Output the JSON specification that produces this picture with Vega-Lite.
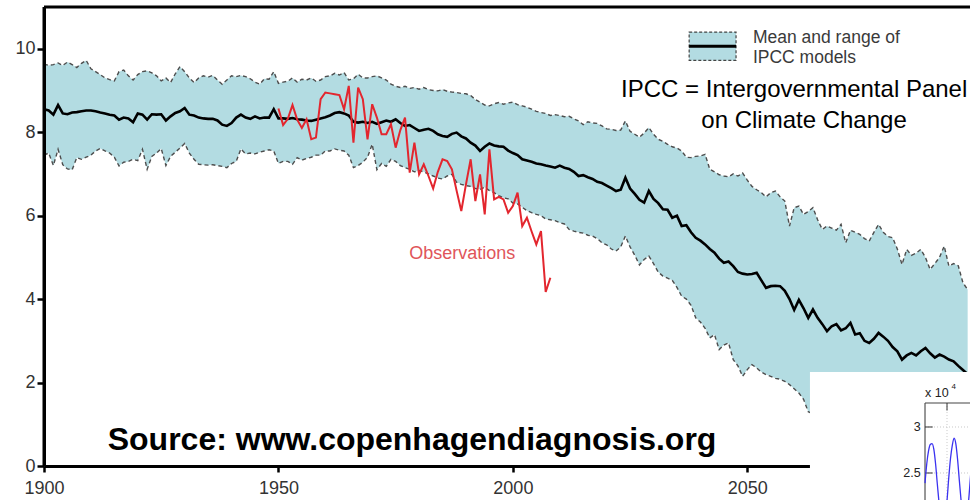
{
  "$schema": "https://vega.github.io/schema/vega-lite/v6.json",
  "width": 926,
  "height": 459,
  "autosize": {"type": "none"},
  "padding": {"left": 44, "top": 7, "right": 0, "bottom": 34},
  "background": "white",
  "config": {
    "view": {"stroke": null},
    "font": "Liberation Sans",
    "axis": {
      "title": null, "grid": false, "labelFlush": false, "labelOverlap": false,
      "domainColor": "black", "domainWidth": 3, "tickColor": "black", "tickWidth": 2.5,
      "labelFontSize": 18, "labelColor": "#333", "labelFont": "Liberation Sans"
    },
    "axisX": {"tickSize": 6, "labelPadding": 7, "zindex": 0},
    "axisY": {"tickSize": 7, "labelPadding": 2, "zindex": 1}
  },
  "datasets": {
    "model": [
      {"year":1900,"hi":9.63,"mean":8.55,"lo":7.45},{"year":1901,"hi":9.60,"mean":8.52,"lo":7.50},{"year":1902,"hi":9.62,"mean":8.42,"lo":7.20},{"year":1903,"hi":9.66,"mean":8.65,"lo":7.59},{"year":1904,"hi":9.60,"mean":8.45,"lo":7.22},{"year":1905,"hi":9.68,"mean":8.43,"lo":7.12},{"year":1906,"hi":9.62,"mean":8.47,"lo":7.10},{"year":1907,"hi":9.55,"mean":8.48,"lo":7.39},{"year":1908,"hi":9.65,"mean":8.50,"lo":7.35},{"year":1909,"hi":9.72,"mean":8.52,"lo":7.40},
      {"year":1910,"hi":9.52,"mean":8.52,"lo":7.45},{"year":1911,"hi":9.45,"mean":8.50,"lo":7.55},{"year":1912,"hi":9.38,"mean":8.47,"lo":7.61},{"year":1913,"hi":9.30,"mean":8.45,"lo":7.55},{"year":1914,"hi":9.26,"mean":8.42,"lo":7.50},{"year":1915,"hi":9.23,"mean":8.40,"lo":7.40},{"year":1916,"hi":9.45,"mean":8.30,"lo":7.19},{"year":1917,"hi":9.49,"mean":8.35,"lo":7.28},{"year":1918,"hi":9.35,"mean":8.33,"lo":7.30},{"year":1919,"hi":9.25,"mean":8.24,"lo":7.35},
      {"year":1920,"hi":9.38,"mean":8.45,"lo":7.32},{"year":1921,"hi":9.45,"mean":8.42,"lo":7.59},{"year":1922,"hi":9.47,"mean":8.30,"lo":7.11},{"year":1923,"hi":9.42,"mean":8.43,"lo":7.42},{"year":1924,"hi":9.35,"mean":8.42,"lo":7.50},{"year":1925,"hi":9.23,"mean":8.43,"lo":7.61},{"year":1926,"hi":9.30,"mean":8.28,"lo":7.20},{"year":1927,"hi":9.19,"mean":8.38,"lo":7.42},{"year":1928,"hi":9.40,"mean":8.46,"lo":7.52},{"year":1929,"hi":9.57,"mean":8.50,"lo":7.62},
      {"year":1930,"hi":9.45,"mean":8.58,"lo":7.73},{"year":1931,"hi":9.30,"mean":8.42,"lo":7.50},{"year":1932,"hi":9.19,"mean":8.40,"lo":7.35},{"year":1933,"hi":9.30,"mean":8.35,"lo":7.23},{"year":1934,"hi":9.35,"mean":8.33,"lo":7.22},{"year":1935,"hi":9.32,"mean":8.32,"lo":7.21},{"year":1936,"hi":9.36,"mean":8.32,"lo":7.22},{"year":1937,"hi":9.25,"mean":8.28,"lo":7.20},{"year":1938,"hi":9.15,"mean":8.18,"lo":7.18},{"year":1939,"hi":9.25,"mean":8.15,"lo":7.15},
      {"year":1940,"hi":9.35,"mean":8.22,"lo":7.25},{"year":1941,"hi":9.33,"mean":8.35,"lo":7.30},{"year":1942,"hi":9.36,"mean":8.42,"lo":7.60},{"year":1943,"hi":9.33,"mean":8.35,"lo":7.48},{"year":1944,"hi":9.28,"mean":8.32,"lo":7.50},{"year":1945,"hi":9.20,"mean":8.38,"lo":7.48},{"year":1946,"hi":9.15,"mean":8.33,"lo":7.52},{"year":1947,"hi":9.28,"mean":8.35,"lo":7.55},{"year":1948,"hi":9.27,"mean":8.35,"lo":7.58},{"year":1949,"hi":9.45,"mean":8.55,"lo":7.55},
      {"year":1950,"hi":9.17,"mean":8.33,"lo":7.25},{"year":1951,"hi":9.20,"mean":8.33,"lo":7.30},{"year":1952,"hi":9.22,"mean":8.32,"lo":7.30},{"year":1953,"hi":9.30,"mean":8.34,"lo":7.23},{"year":1954,"hi":9.20,"mean":8.31,"lo":7.39},{"year":1955,"hi":9.27,"mean":8.30,"lo":7.33},{"year":1956,"hi":9.25,"mean":8.28,"lo":7.37},{"year":1957,"hi":9.30,"mean":8.27,"lo":7.40},{"year":1958,"hi":9.22,"mean":8.30,"lo":7.45},{"year":1959,"hi":9.25,"mean":8.33,"lo":7.45},
      {"year":1960,"hi":9.33,"mean":8.36,"lo":7.55},{"year":1961,"hi":9.35,"mean":8.40,"lo":7.55},{"year":1962,"hi":9.41,"mean":8.46,"lo":7.60},{"year":1963,"hi":9.37,"mean":8.48,"lo":7.57},{"year":1964,"hi":9.43,"mean":8.45,"lo":7.55},{"year":1965,"hi":9.25,"mean":8.40,"lo":7.45},{"year":1966,"hi":9.28,"mean":8.25,"lo":7.15},{"year":1967,"hi":9.39,"mean":8.23,"lo":7.20},{"year":1968,"hi":9.30,"mean":8.25,"lo":7.28},{"year":1969,"hi":9.30,"mean":8.22,"lo":7.40},
      {"year":1970,"hi":9.33,"mean":8.25,"lo":7.71},{"year":1971,"hi":9.35,"mean":8.20,"lo":7.10},{"year":1972,"hi":9.30,"mean":8.24,"lo":7.25},{"year":1973,"hi":9.25,"mean":8.28,"lo":7.18},{"year":1974,"hi":9.15,"mean":8.25,"lo":7.35},{"year":1975,"hi":9.10,"mean":8.31,"lo":7.30},{"year":1976,"hi":9.07,"mean":8.22,"lo":7.20},{"year":1977,"hi":9.10,"mean":8.15,"lo":7.15},{"year":1978,"hi":9.05,"mean":8.17,"lo":7.11},{"year":1979,"hi":9.07,"mean":8.10,"lo":7.05},
      {"year":1980,"hi":9.03,"mean":8.03,"lo":7.08},{"year":1981,"hi":9.07,"mean":8.06,"lo":7.05},{"year":1982,"hi":9.02,"mean":8.08,"lo":7.00},{"year":1983,"hi":9.00,"mean":8.03,"lo":6.95},{"year":1984,"hi":8.99,"mean":7.95,"lo":6.90},{"year":1985,"hi":9.02,"mean":7.91,"lo":6.88},{"year":1986,"hi":8.98,"mean":7.89,"lo":6.95},{"year":1987,"hi":8.96,"mean":7.96,"lo":6.99},{"year":1988,"hi":8.95,"mean":7.99,"lo":6.80},{"year":1989,"hi":8.93,"mean":7.90,"lo":6.75},
      {"year":1990,"hi":8.92,"mean":7.85,"lo":6.72},{"year":1991,"hi":8.88,"mean":7.75,"lo":6.70},{"year":1992,"hi":8.78,"mean":7.68,"lo":6.65},{"year":1993,"hi":8.72,"mean":7.55,"lo":6.63},{"year":1994,"hi":8.65,"mean":7.65,"lo":6.68},{"year":1995,"hi":8.63,"mean":7.73,"lo":6.60},{"year":1996,"hi":8.68,"mean":7.68,"lo":6.55},{"year":1997,"hi":8.71,"mean":7.66,"lo":6.48},{"year":1998,"hi":8.67,"mean":7.65,"lo":6.43},{"year":1999,"hi":8.70,"mean":7.56,"lo":6.40},
      {"year":2000,"hi":8.72,"mean":7.50,"lo":6.30},{"year":2001,"hi":8.66,"mean":7.45,"lo":6.28},{"year":2002,"hi":8.63,"mean":7.35,"lo":6.20},{"year":2003,"hi":8.60,"mean":7.32,"lo":6.12},{"year":2004,"hi":8.55,"mean":7.29,"lo":6.07},{"year":2005,"hi":8.50,"mean":7.25,"lo":6.03},{"year":2006,"hi":8.47,"mean":7.23,"lo":6.00},{"year":2007,"hi":8.45,"mean":7.20,"lo":5.92},{"year":2008,"hi":8.40,"mean":7.18,"lo":5.90},{"year":2009,"hi":8.42,"mean":7.15,"lo":5.88},
      {"year":2010,"hi":8.40,"mean":7.20,"lo":5.83},{"year":2011,"hi":8.37,"mean":7.15,"lo":5.80},{"year":2012,"hi":8.38,"mean":7.12,"lo":5.67},{"year":2013,"hi":8.32,"mean":7.05,"lo":5.63},{"year":2014,"hi":8.27,"mean":6.95,"lo":5.60},{"year":2015,"hi":8.18,"mean":6.97,"lo":5.58},{"year":2016,"hi":8.25,"mean":6.92,"lo":5.53},{"year":2017,"hi":8.22,"mean":6.88,"lo":5.51},{"year":2018,"hi":8.21,"mean":6.81,"lo":5.45},{"year":2019,"hi":8.15,"mean":6.78,"lo":5.35},
      {"year":2020,"hi":8.08,"mean":6.72,"lo":5.30},{"year":2021,"hi":8.07,"mean":6.66,"lo":5.20},{"year":2022,"hi":8.04,"mean":6.59,"lo":5.15},{"year":2023,"hi":8.05,"mean":6.62,"lo":5.25},{"year":2024,"hi":8.27,"mean":6.91,"lo":5.51},{"year":2025,"hi":8.02,"mean":6.65,"lo":5.25},{"year":2026,"hi":7.95,"mean":6.52,"lo":5.05},{"year":2027,"hi":7.88,"mean":6.38,"lo":4.82},{"year":2028,"hi":7.98,"mean":6.31,"lo":4.95},{"year":2029,"hi":8.11,"mean":6.59,"lo":5.03},
      {"year":2030,"hi":7.95,"mean":6.40,"lo":4.85},{"year":2031,"hi":7.83,"mean":6.30,"lo":4.65},{"year":2032,"hi":7.78,"mean":6.15,"lo":4.55},{"year":2033,"hi":7.71,"mean":6.14,"lo":4.50},{"year":2034,"hi":7.65,"mean":5.95,"lo":4.45},{"year":2035,"hi":7.62,"mean":6.00,"lo":4.28},{"year":2036,"hi":7.55,"mean":5.75,"lo":4.07},{"year":2037,"hi":7.40,"mean":5.77,"lo":4.00},{"year":2038,"hi":7.39,"mean":5.60,"lo":3.85},{"year":2039,"hi":7.42,"mean":5.47,"lo":3.55},
      {"year":2040,"hi":7.43,"mean":5.40,"lo":3.45},{"year":2041,"hi":7.47,"mean":5.31,"lo":3.30},{"year":2042,"hi":7.11,"mean":5.20,"lo":3.07},{"year":2043,"hi":7.05,"mean":5.11,"lo":3.15},{"year":2044,"hi":6.98,"mean":4.97,"lo":2.79},{"year":2045,"hi":6.95,"mean":4.87,"lo":2.90},{"year":2046,"hi":6.93,"mean":4.90,"lo":2.95},{"year":2047,"hi":7.00,"mean":4.79,"lo":2.55},{"year":2048,"hi":6.95,"mean":4.65,"lo":2.40},{"year":2049,"hi":7.02,"mean":4.61,"lo":2.15},
      {"year":2050,"hi":6.85,"mean":4.59,"lo":2.31},{"year":2051,"hi":6.70,"mean":4.60,"lo":2.43},{"year":2052,"hi":6.62,"mean":4.63,"lo":2.35},{"year":2053,"hi":6.55,"mean":4.45,"lo":2.25},{"year":2054,"hi":6.45,"mean":4.27,"lo":2.19},{"year":2055,"hi":6.55,"mean":4.31,"lo":2.15},{"year":2056,"hi":6.59,"mean":4.32,"lo":2.10},{"year":2057,"hi":6.45,"mean":4.31,"lo":2.08},{"year":2058,"hi":6.35,"mean":4.20,"lo":2.03},{"year":2059,"hi":5.75,"mean":4.00,"lo":1.95},
      {"year":2060,"hi":6.19,"mean":3.74,"lo":1.85},{"year":2061,"hi":6.23,"mean":3.98,"lo":1.75},{"year":2062,"hi":6.03,"mean":3.78,"lo":1.60},{"year":2063,"hi":6.10,"mean":3.55,"lo":1.30},{"year":2064,"hi":6.19,"mean":3.75,"lo":1.25},{"year":2065,"hi":5.90,"mean":3.55,"lo":1.20},{"year":2066,"hi":5.67,"mean":3.40,"lo":1.15},{"year":2067,"hi":5.75,"mean":3.23,"lo":1.05},{"year":2068,"hi":5.70,"mean":3.35,"lo":1.00},{"year":2069,"hi":5.65,"mean":3.40,"lo":0.95},
      {"year":2070,"hi":5.79,"mean":3.25,"lo":0.90},{"year":2071,"hi":5.35,"mean":3.30,"lo":0.85},{"year":2072,"hi":5.65,"mean":3.43,"lo":0.85},{"year":2073,"hi":5.60,"mean":3.15,"lo":0.80},{"year":2074,"hi":5.55,"mean":3.18,"lo":0.75},{"year":2075,"hi":5.45,"mean":3.00,"lo":0.70},{"year":2076,"hi":5.39,"mean":2.95,"lo":0.65},{"year":2077,"hi":5.60,"mean":3.05,"lo":0.70},{"year":2078,"hi":5.79,"mean":3.19,"lo":0.65},{"year":2079,"hi":5.60,"mean":3.10,"lo":0.60},
      {"year":2080,"hi":5.50,"mean":3.00,"lo":0.55},{"year":2081,"hi":5.47,"mean":2.85,"lo":0.50},{"year":2082,"hi":5.20,"mean":2.75,"lo":0.50},{"year":2083,"hi":4.83,"mean":2.55,"lo":0.45},{"year":2084,"hi":5.19,"mean":2.65,"lo":0.45},{"year":2085,"hi":5.05,"mean":2.71,"lo":0.40},{"year":2086,"hi":5.10,"mean":2.65,"lo":0.40},{"year":2087,"hi":5.19,"mean":2.75,"lo":0.40},{"year":2088,"hi":5.00,"mean":2.83,"lo":0.35},{"year":2089,"hi":4.71,"mean":2.70,"lo":0.35},
      {"year":2090,"hi":4.85,"mean":2.60,"lo":0.30},{"year":2091,"hi":5.00,"mean":2.67,"lo":0.30},{"year":2092,"hi":5.27,"mean":2.62,"lo":0.30},{"year":2093,"hi":4.79,"mean":2.55,"lo":0.25},{"year":2094,"hi":4.85,"mean":2.51,"lo":0.25},{"year":2095,"hi":4.80,"mean":2.40,"lo":0.25},{"year":2096,"hi":4.39,"mean":2.30,"lo":0.20},{"year":2097,"hi":4.23,"mean":2.20,"lo":0.20}
    ],
    "obs": [
      {"year":1950,"extent":8.57},{"year":1951,"extent":8.17},{"year":1952,"extent":8.32},{"year":1953,"extent":8.65},{"year":1954,"extent":8.30},{"year":1955,"extent":8.10},{"year":1956,"extent":8.31},{"year":1957,"extent":7.83},{"year":1958,"extent":7.87},{"year":1959,"extent":8.79},
      {"year":1960,"extent":8.95},{"year":1961,"extent":8.93},{"year":1962,"extent":8.91},{"year":1963,"extent":8.89},{"year":1964,"extent":8.55},{"year":1965,"extent":9.11},{"year":1966,"extent":7.75},{"year":1967,"extent":9.07},{"year":1968,"extent":8.79},{"year":1969,"extent":7.83},
      {"year":1970,"extent":8.67},{"year":1971,"extent":8.35},{"year":1972,"extent":7.95},{"year":1973,"extent":7.95},{"year":1974,"extent":8.19},{"year":1975,"extent":7.63},{"year":1976,"extent":8.05},{"year":1977,"extent":8.35},{"year":1978,"extent":7.03},{"year":1979,"extent":7.75},
      {"year":1980,"extent":6.99},{"year":1981,"extent":7.23},{"year":1982,"extent":6.95},{"year":1983,"extent":6.65},{"year":1984,"extent":7.05},{"year":1985,"extent":7.35},{"year":1986,"extent":7.31},{"year":1987,"extent":7.11},{"year":1988,"extent":6.60},{"year":1989,"extent":6.11},
      {"year":1990,"extent":6.75},{"year":1991,"extent":7.35},{"year":1992,"extent":6.35},{"year":1993,"extent":6.99},{"year":1994,"extent":6.03},{"year":1995,"extent":7.59},{"year":1996,"extent":6.39},{"year":1997,"extent":6.45},{"year":1998,"extent":6.39},{"year":1999,"extent":6.07},
      {"year":2000,"extent":6.23},{"year":2001,"extent":6.55},{"year":2002,"extent":5.75},{"year":2003,"extent":5.95},{"year":2004,"extent":5.62},{"year":2005,"extent":5.31},{"year":2006,"extent":5.63},{"year":2007,"extent":4.17},{"year":2008,"extent":4.51}
    ],
    "wave": [
      {"u":0.00,"v":2.39},{"u":0.08,"v":2.60},{"u":0.16,"v":2.74},{"u":0.24,"v":2.81},{"u":0.32,"v":2.82},{"u":0.40,"v":2.76},{"u":0.48,"v":2.60},{"u":0.56,"v":2.38},{"u":0.64,"v":2.17},{"u":0.72,"v":2.00},{"u":0.82,"v":1.93},{"u":0.92,"v":2.02},{"u":1.00,"v":2.20},
      {"u":1.08,"v":2.45},{"u":1.16,"v":2.66},{"u":1.24,"v":2.80},{"u":1.32,"v":2.88},{"u":1.40,"v":2.82},{"u":1.48,"v":2.65},{"u":1.56,"v":2.42},{"u":1.64,"v":2.20},{"u":1.72,"v":2.02},{"u":1.82,"v":1.95},{"u":1.92,"v":2.05},{"u":2.00,"v":2.25},{"u":2.08,"v":2.50}
    ]
  },
  "layer": [
    {
      "layer": [
        {
          "data": {"name": "model"},
          "mark": {"type": "area", "color": "#b3dce2", "opacity": 1},
          "encoding": {
            "x": {"field": "year", "type": "quantitative", "scale": {"domain": [1900, 2097.5], "nice": false, "zero": false},
                  "axis": {"orient": "bottom", "values": [1900, 1950, 2000, 2050], "format": "d", "title": null}},
            "y": {"field": "hi", "type": "quantitative", "scale": {"domain": [0, 11], "nice": false, "zero": false},
                  "axis": {"orient": "left", "values": [0, 2, 4, 6, 8, 10], "title": null, "zindex": 1}},
            "y2": {"field": "lo"}
          }
        },
        {
          "data": {"name": "model"},
          "mark": {"type": "line", "color": "#4d4d4d", "strokeWidth": 1.4, "strokeDash": [4, 3]},
          "encoding": {
            "x": {"field": "year", "type": "quantitative"},
            "y": {"field": "hi", "type": "quantitative"}
          }
        },
        {
          "data": {"name": "model"},
          "mark": {"type": "line", "color": "#4d4d4d", "strokeWidth": 1.4, "strokeDash": [4, 3]},
          "encoding": {
            "x": {"field": "year", "type": "quantitative"},
            "y": {"field": "lo", "type": "quantitative"}
          }
        },
        {
          "data": {"name": "model"},
          "mark": {"type": "line", "color": "black", "strokeWidth": 2.6},
          "encoding": {
            "x": {"field": "year", "type": "quantitative"},
            "y": {"field": "mean", "type": "quantitative"}
          }
        },
        {
          "data": {"name": "obs"},
          "mark": {"type": "line", "color": "#e3262e", "strokeWidth": 2},
          "encoding": {
            "x": {"field": "year", "type": "quantitative"},
            "y": {"field": "extent", "type": "quantitative"}
          }
        },
        {
          "data": {"values": [
            {"year": 1900, "end": 2097.5, "top": 11, "bottom": 11},
            {"year": 1900, "end": 1900, "top": 11, "bottom": 0}
          ]},
          "mark": {"type": "rule", "color": "black", "strokeWidth": 3},
          "encoding": {
            "x": {"field": "year", "type": "quantitative"}, "x2": {"field": "end"},
            "y": {"field": "top", "type": "quantitative"}, "y2": {"field": "bottom"}
          }
        },
        {
          "data": {"values": [{"year": 2037.6, "end": 2047.6, "top": 10.40, "bottom": 9.72}]},
          "mark": {"type": "rect", "fill": "#b3dce2", "stroke": "#444", "strokeWidth": 1.2, "strokeDash": [3, 2]},
          "encoding": {
            "x": {"field": "year", "type": "quantitative"}, "x2": {"field": "end"},
            "y": {"field": "top", "type": "quantitative"}, "y2": {"field": "bottom"}
          }
        },
        {
          "data": {"values": [{"year": 2037.6, "end": 2047.6, "mid": 10.06}]},
          "mark": {"type": "rule", "color": "black", "strokeWidth": 3},
          "encoding": {
            "x": {"field": "year", "type": "quantitative"}, "x2": {"field": "end"},
            "y": {"field": "mid", "type": "quantitative"}
          }
        },
        {
          "data": {"values": [
            {"year": 2051.2, "pos": 10.13, "label": "Mean and range of"},
            {"year": 2051.2, "pos": 9.65, "label": "IPCC models"}
          ]},
          "mark": {"type": "text", "align": "left", "baseline": "alphabetic", "fontSize": 17.5, "color": "#3a3a3a"},
          "encoding": {
            "x": {"field": "year", "type": "quantitative"},
            "y": {"field": "pos", "type": "quantitative"},
            "text": {"field": "label"}
          }
        },
        {
          "data": {"values": [
            {"year": 2060.0, "pos": 8.85, "label": "IPCC = Intergovernmental Panel"},
            {"year": 2062.1, "pos": 8.09, "label": "on Climate Change"}
          ]},
          "mark": {"type": "text", "align": "center", "baseline": "alphabetic", "fontSize": 24, "color": "black"},
          "encoding": {
            "x": {"field": "year", "type": "quantitative"},
            "y": {"field": "pos", "type": "quantitative"},
            "text": {"field": "label"}
          }
        },
        {
          "data": {"values": [{"year": 1977.9, "pos": 4.96, "label": "Observations"}]},
          "mark": {"type": "text", "align": "left", "baseline": "alphabetic", "fontSize": 18, "color": "#e0555a"},
          "encoding": {
            "x": {"field": "year", "type": "quantitative"},
            "y": {"field": "pos", "type": "quantitative"},
            "text": {"field": "label"}
          }
        },
        {
          "data": {"values": [{"year": 1978.5, "pos": 0.383, "label": "Source: www.copenhagendiagnosis.org"}]},
          "mark": {"type": "text", "align": "center", "baseline": "alphabetic", "fontSize": 32, "fontWeight": "bold", "color": "black"},
          "encoding": {
            "x": {"field": "year", "type": "quantitative"},
            "y": {"field": "pos", "type": "quantitative"},
            "text": {"field": "label"}
          }
        }
      ]
    },
    {
      "layer": [
        {
          "data": {"values": [{"u": -5.23, "u2": 2.3, "v": 3.598, "v2": 2.1}]},
          "mark": {"type": "rect", "fill": "white"},
          "encoding": {
            "x": {"field": "u", "type": "quantitative", "scale": {"domain": [-40.045, 2.045], "nice": false, "zero": false}, "axis": null}, "x2": {"field": "u2"},
            "y": {"field": "v", "type": "quantitative", "scale": {"domain": [2.576, 7.565], "nice": false, "zero": false}, "axis": null}, "y2": {"field": "v2"}
          }
        },
        {
          "data": {"values": [
            {"u": 0, "u2": 2.3, "v": 3, "v2": 3},
            {"u": 0, "u2": 2.3, "v": 2.5, "v2": 2.5},
            {"u": 1, "u2": 1, "v": 3.26, "v2": 2.1}
          ]},
          "mark": {"type": "rule", "color": "#c8c8c8", "strokeWidth": 1, "strokeDash": [1, 2]},
          "encoding": {
            "x": {"field": "u", "type": "quantitative", "axis": null}, "x2": {"field": "u2"},
            "y": {"field": "v", "type": "quantitative", "axis": null}, "y2": {"field": "v2"}
          }
        },
        {
          "data": {"values": [
            {"u": 0, "u2": 2.3, "v": 3.26, "v2": 3.26},
            {"u": 0, "u2": 0, "v": 3.26, "v2": 2.1},
            {"u": 0, "u2": 0.35, "v": 3, "v2": 3},
            {"u": 0, "u2": 0.35, "v": 2.5, "v2": 2.5},
            {"u": 1, "u2": 1, "v": 3.26, "v2": 3.18}
          ]},
          "mark": {"type": "rule", "color": "#444", "strokeWidth": 1.1},
          "encoding": {
            "x": {"field": "u", "type": "quantitative", "axis": null}, "x2": {"field": "u2"},
            "y": {"field": "v", "type": "quantitative", "axis": null}, "y2": {"field": "v2"}
          }
        },
        {
          "data": {"values": [{"u": -0.2, "v": 3, "label": "3"}, {"u": -0.2, "v": 2.5, "label": "2.5"}]},
          "mark": {"type": "text", "align": "right", "baseline": "middle", "fontSize": 12.5, "color": "#222"},
          "encoding": {
            "x": {"field": "u", "type": "quantitative", "axis": null},
            "y": {"field": "v", "type": "quantitative", "axis": null},
            "text": {"field": "label"}
          }
        },
        {
          "data": {"values": [{"u": 0, "v": 3.33, "label": "x 10", "size": 12.5}, {"u": 1.2, "v": 3.41, "label": "4", "size": 8}]},
          "mark": {"type": "text", "align": "left", "baseline": "alphabetic", "color": "#222"},
          "encoding": {
            "x": {"field": "u", "type": "quantitative", "axis": null},
            "y": {"field": "v", "type": "quantitative", "axis": null},
            "text": {"field": "label"},
            "size": {"field": "size", "type": "quantitative", "scale": null, "legend": null}
          }
        },
        {
          "data": {"name": "wave"},
          "mark": {"type": "line", "color": "#3b32f0", "strokeWidth": 1.3, "interpolate": "monotone"},
          "encoding": {
            "x": {"field": "u", "type": "quantitative", "axis": null},
            "y": {"field": "v", "type": "quantitative", "axis": null}
          }
        }
      ]
    }
  ],
  "resolve": {"scale": {"x": "independent", "y": "independent"}}
}
